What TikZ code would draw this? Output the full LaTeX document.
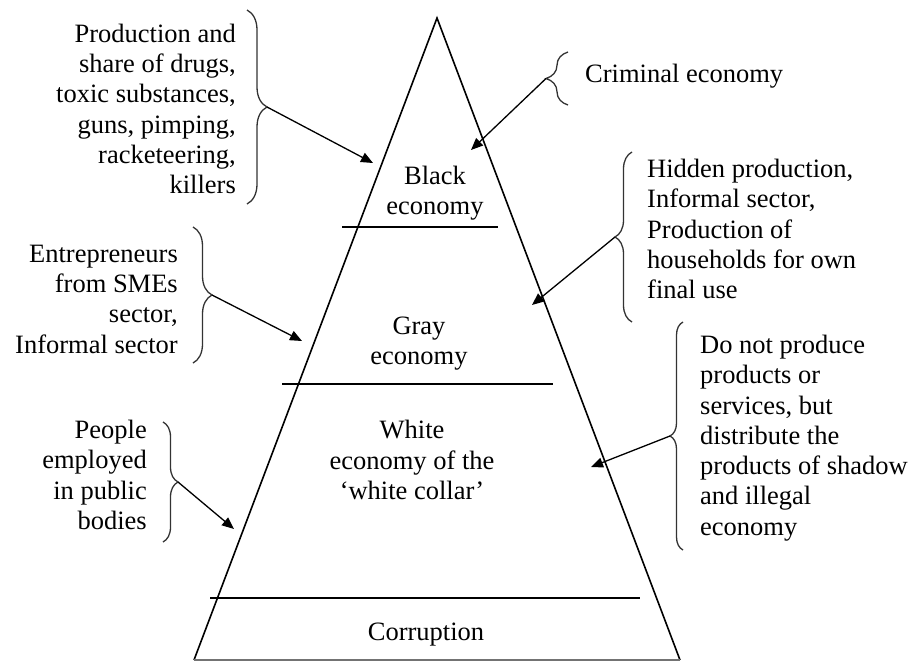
\documentclass[tikz,border=0pt]{standalone}
\usepackage{fontspec}
\setmainfont{Liberation Serif}
\usetikzlibrary{arrows.meta,decorations.pathreplacing}
\begin{document}
\begin{tikzpicture}[x=1pt,y=-1pt,
  lbl/.style={inner sep=0pt,font=\fontsize{26.5}{30.3}\selectfont},
  edge/.style={line width=1.6pt,line join=miter},
  sep/.style={line width=1.6pt},
  brc/.style={decorate,line width=1.3pt,draw=black!80},
  arr/.style={line width=1.3pt,-{Triangle[length=12pt,width=10pt]}}]
\useasboundingbox (0,0) rectangle (910,662);
% pyramid
\coordinate (apex) at (437,18);
\coordinate (bl) at (194,660);
\coordinate (br) at (680,660);
\draw[edge] (bl) -- (apex) -- (br);
\draw[line width=1.2pt,draw=black!55] (bl) -- (br);
\draw[sep] (342,227) -- (498,227);
\draw[sep] (282,384) -- (553,384);
\draw[sep] (210,598) -- (640,598);
% level labels
\node[lbl,align=center] (black) at (435,193) {Black\\economy};
\node[lbl,align=center] (gray) at (419,343.5) {Gray\\economy};
\node[lbl,align=center] (white) at (412,460) {White\\economy of the\\‘white collar’};
\node[lbl] (corr) at (426,635) {Corruption};
% side texts
\node[lbl,align=right,anchor=east] (t1) at (236,109) {Production and\\share of drugs,\\toxic substances,\\guns, pimping,\\racketeering,\\killers};
\node[lbl,anchor=west] (t2) at (585,76) {Criminal economy};
\node[lbl,align=left,anchor=west] (t3) at (647,229) {Hidden production,\\Informal sector,\\Production of\\households for own\\final use};
\node[lbl,align=right,anchor=east] (t4) at (178,299) {Entrepreneurs\\from SMEs\\sector,\\Informal sector};
\node[lbl,align=right,anchor=east] (t5) at (147,475) {People\\employed\\in public\\bodies};
\node[lbl,align=left,anchor=west] (t6) at (700,438) {Do not produce\\products or\\services, but\\distribute the\\products of shadow\\and illegal\\economy};
% braces
\draw[brc,decoration={brace,amplitude=20pt}] (247,10) -- (247,204);
\coordinate (b1) at (267,107);
\draw[brc,decoration={brace,amplitude=22pt}] (568,105) -- (568,52);
\coordinate (b2) at (546,78.5);
\draw[brc,decoration={brace,amplitude=17pt}] (632,322) -- (632,152);
\coordinate (b3) at (615,237);
\draw[brc,decoration={brace,amplitude=19pt}] (193,227) -- (193,363);
\coordinate (b4) at (212,295);
\draw[brc,decoration={brace,amplitude=15pt}] (163,422) -- (163,542);
\coordinate (b5) at (178,482);
\draw[brc,decoration={brace,amplitude=13pt}] (683,550) -- (683,322);
\coordinate (b6) at (670,436);
% arrow targets
\coordinate (e1) at (373,163);
\coordinate (e2) at (471,150);
\coordinate (e3) at (532,305);
\coordinate (e4) at (302,341);
\coordinate (e5) at (234,529);
\coordinate (e6) at (591,467);
\draw[arr] (b1) -- (e1);
\draw[arr] (b2) -- (e2);
\draw[arr] (b3) -- (e3);
\draw[arr] (b4) -- (e4);
\draw[arr] (b5) -- (e5);
\draw[arr] (b6) -- (e6);
\end{tikzpicture}
\end{document}
